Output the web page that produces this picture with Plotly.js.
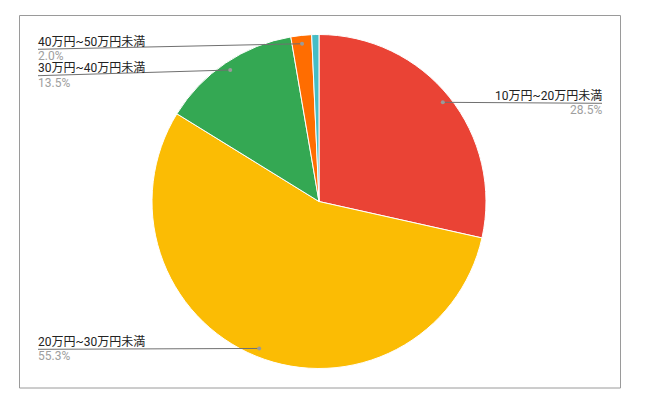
<!DOCTYPE html>
<html>
<head>
<meta charset="utf-8">
<script src="https://cdn.plot.ly/plotly-3.0.1.min.js"></script>
<style>html,body{margin:0;padding:0;background:#fff;}#chart{width:645px;height:405px;}</style>
</head>
<body>
<div id="chart"></div>
<script>
// Data
const categories = ["10万円~20万円未満", "20万円~30万円未満", "30万円~40万円未満", "40万円~50万円未満", "50万円以上"];
const shares = [28.5, 55.3, 13.5, 2.0, 0.7];
const colors = ["#EA4335", "#FBBC04", "#34A853", "#FF6D01", "#46BDC6"];
const showLabel = [true, true, true, true, false];

// Layout geometry (pixels)
const W = 645, H = 405;
const cx = 319, cy = 201.5, R = 167;
// label placement: [line end x, line y, side]
const labelPlace = [
  {x: 602, y: 103.3, side: "right"},
  {x: 38, y: 349.3, side: "left"},
  {x: 38, y: 75.7, side: "left"},
  {x: 38, y: 49.3, side: "left"},
  null
];

const px = x => x / W;
const py = y => 1 - y / H;

const total = shares.reduce((a, b) => a + b, 0);
const shapes = [];
const annotations = [];

// border
shapes.push({type: "rect", xref: "paper", yref: "paper", x0: px(19.5), x1: px(620.5), y0: py(388), y1: py(15.5),
  line: {color: "#9a9a9a", width: 1}, fillcolor: "rgba(0,0,0,0)", layer: "below"});

let cum = 0;
shares.forEach((v, i) => {
  const mid = (cum + v / 2) / total * 2 * Math.PI;
  cum += v;
  if (!showLabel[i]) return;
  const dx = cx + 0.95 * R * Math.sin(mid);
  const dy = cy - 0.95 * R * Math.cos(mid);
  const p = labelPlace[i];
  shapes.push({type: "line", xref: "paper", yref: "paper", x0: px(dx), y0: py(dy), x1: px(p.x), y1: py(p.y),
    line: {color: "#707070", width: 1}});
  shapes.push({type: "circle", xref: "paper", yref: "paper", x0: px(dx - 2), x1: px(dx + 2), y0: py(dy + 2), y1: py(dy - 2),
    line: {color: "#9a9a9a", width: 0}, fillcolor: "#9a9a9a"});
  const anchor = p.side === "right" ? "right" : "left";
  annotations.push({xref: "paper", yref: "paper", x: px(p.x + (anchor === "left" ? -2 : 2)), y: py(p.y - 7.5),
    xanchor: anchor, yanchor: "middle", showarrow: false, text: categories[i],
    font: {family: "Roboto, 'Noto Sans CJK JP', sans-serif", size: 12, color: "#222222"}});
  annotations.push({xref: "paper", yref: "paper", x: px(p.x + (anchor === "left" ? -2 : 2)), y: py(p.y + 7),
    xanchor: anchor, yanchor: "middle", showarrow: false, text: v.toFixed(1) + "%",
    font: {family: "Roboto, 'Noto Sans CJK JP', sans-serif", size: 12, color: "#9e9e9e"}});
});

const trace = {
  type: "pie",
  labels: categories,
  values: shares,
  sort: false,
  direction: "clockwise",
  rotation: 0,
  textinfo: "none",
  hoverinfo: "label+percent",
  marker: {colors: colors, line: {color: "#ffffff", width: 1}},
  domain: {x: [px(cx - R), px(cx + R)], y: [py(cy + R), py(cy - R)]},
  showlegend: false
};

const layout = {
  width: W, height: H,
  margin: {l: 0, r: 0, t: 0, b: 0},
  paper_bgcolor: "#ffffff",
  showlegend: false,
  shapes: shapes,
  annotations: annotations,
  font: {family: "Roboto, 'Noto Sans CJK JP', sans-serif"}
};

Plotly.newPlot("chart", [trace], layout, {displayModeBar: false, staticPlot: true});
</script>
</body>
</html>
